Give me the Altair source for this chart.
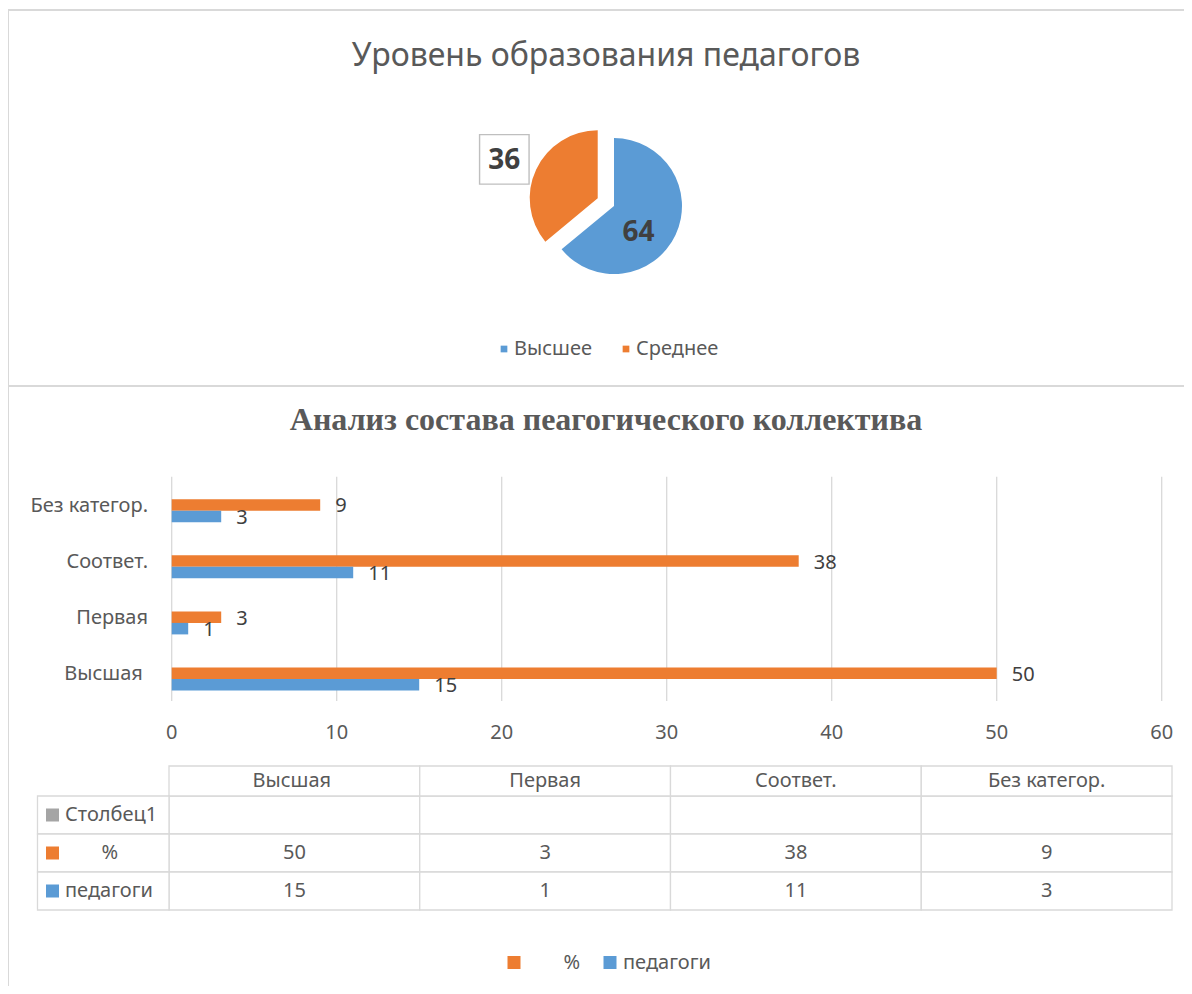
import math
import numpy as np
import pandas as pd
import altair as alt

# ---------------- data ----------------
edu_title = "Уровень образования педагогов"
edu_levels = ["Высшее", "Среднее"]
edu_values = [64, 36]
edu_colors = ["#5B9BD5", "#ED7D31"]

ZW = "\u200b"      # zero-width guard so padding spaces are kept
NB = "\u00a0"
bar_title = "Анализ состава пеагогического коллектива"
categories = ["Высшая" + NB + ZW, "Первая", "Соответ.", "Без категор."]
pct_values = [50, 3, 38, 9]
ped_values = [15, 1, 11, 3]
series_names = [ZW + NB * 7 + "%", "педагоги"]
series_colors = ["#ED7D31", "#5B9BD5"]
extra_row = "Столбец1"
extra_color = "#A5A5A5"
x_ticks = [0, 10, 20, 30, 40, 50, 60]

TXT = "#595959"
DARK = "#404040"
GRID = "#D9D9D9"
FONT = "Noto Sans"

# ---------------- layout (plot coords, origin at page 8,8) ----------------
W, H = 1176, 978

# ---------------- frames ----------------
one = pd.DataFrame({"k": [0]})
frame_top = alt.Chart(one).mark_rect(fillOpacity=0, stroke=GRID, strokeWidth=2).encode(
    x=alt.value(0), x2=alt.value(1200), y=alt.value(2), y2=alt.value(378))
frame_bot = alt.Chart(one).mark_rect(fillOpacity=0, stroke=GRID, strokeWidth=2).encode(
    x=alt.value(0), x2=alt.value(1200), y=alt.value(378), y2=alt.value(1000))

# ---------------- pie ----------------
cum = np.cumsum([0] + edu_values)
pie_df = pd.DataFrame({
    "level": edu_levels,
    "value": edu_values,
    "start": cum[:-1],
    "end": cum[1:],
    "mid": (cum[:-1] + cum[1:]) / 2.0,
})
CX, CY, R = 606, 198, 68
EXPLODE = 18
total = float(sum(edu_values))
m_or = (cum[1] + cum[2]) / 2.0 / total * 2 * math.pi
OX = CX + EXPLODE * math.sin(m_or)
OY = CY - EXPLODE * math.cos(m_or)
LR = 101
BX = OX + LR * math.sin(m_or) - 2
BY = OY - LR * math.cos(m_or) + 4

theta_scale = alt.Scale(domain=[0, total], range=[0, 2 * math.pi])
pie_color = alt.Scale(domain=edu_levels, range=edu_colors)
pie_base = alt.Chart(pie_df)

arc_hi = pie_base.transform_filter(alt.datum.level == edu_levels[0]).mark_arc(radius=R).encode(
    theta=alt.Theta("start:Q", scale=theta_scale, stack=False),
    theta2="end:Q",
    color=alt.Color("level:N", scale=pie_color,
                    legend=alt.Legend(orient="none", legendX=486, legendY=331, direction="horizontal",
                                      title=None, symbolType="square", symbolSize=45, symbolStrokeWidth=0,
                                      labelFont=FONT, labelFontSize=20, labelColor=TXT,
                                      labelOffset=0, columnPadding=24, padding=0)),
    x=alt.value(CX), y=alt.value(CY))
arc_mid = pie_base.transform_filter(alt.datum.level == edu_levels[1]).mark_arc(radius=R).encode(
    theta=alt.Theta("start:Q", scale=theta_scale, stack=False),
    theta2="end:Q",
    color=alt.Color("level:N", scale=pie_color),
    x=alt.value(OX), y=alt.value(OY))
lbl_hi = pie_base.transform_filter(alt.datum.level == edu_levels[0]).mark_text(
    font=FONT, fontSize=28, fontWeight="bold", color=DARK, dx=-8, dy=12, baseline="middle").encode(
    theta=alt.Theta("mid:Q", scale=theta_scale, stack=False),
    radius=alt.value(36), text="value:Q", x=alt.value(CX), y=alt.value(CY))
box_mid = pie_base.transform_filter(alt.datum.level == edu_levels[1]).mark_point(
    shape="square", size=2450, filled=False, stroke="#BFBFBF", strokeWidth=1.4, opacity=1).encode(
    x=alt.value(BX), y=alt.value(BY))
lbl_mid = pie_base.transform_filter(alt.datum.level == edu_levels[1]).mark_text(
    font=FONT, fontSize=28, fontWeight="bold", color=DARK, baseline="middle", dy=2).encode(
    text="value:Q", x=alt.value(BX), y=alt.value(BY))
pie_group = alt.layer(arc_hi, arc_mid, lbl_hi, box_mid, lbl_mid)

# ---------------- bar chart ----------------
bar_df = pd.DataFrame({
    "cat": categories * 2,
    "series": [series_names[0]] * len(categories) + [series_names[1]] * len(categories),
    "value": pct_values + ped_values,
})
x_scale = alt.Scale(domain=[0, 60], range=[163.7, 1153.7])
y_scale = alt.Scale(domain=categories[::-1], range=[474.65, 699.05], paddingInner=0, paddingOuter=0)
off_scale = alt.Scale(domain=series_names, range=[16.55, 39.55], paddingInner=0, paddingOuter=0)
bar_color = alt.Scale(domain=series_names, range=series_colors)

ticks_df = pd.DataFrame({"tick": x_ticks})
grid = alt.Chart(ticks_df).mark_rule(color=GRID, strokeWidth=1.3).encode(
    x=alt.X("tick:Q", scale=x_scale, axis=None), y=alt.value(468.7), y2=alt.value(693))
tick_lbl = alt.Chart(ticks_df).mark_text(font=FONT, fontSize=20, color=TXT, baseline="middle").encode(
    x=alt.X("tick:Q", scale=x_scale, axis=None), y=alt.value(724.5), text="tick:Q")
bars = alt.Chart(bar_df).mark_bar().encode(
    x=alt.X("value:Q", scale=x_scale, axis=None),
    y=alt.Y("cat:N", scale=y_scale, axis=None),
    yOffset=alt.YOffset("series:N", scale=off_scale),
    color=alt.Color("series:N", scale=bar_color,
                    legend=alt.Legend(orient="none", legendX=496, legendY=944.5, direction="horizontal",
                                      title=None, symbolType="square", symbolSize=169, symbolStrokeWidth=0,
                                      labelFont=FONT, labelFontSize=20, labelColor=TXT,
                                      labelOffset=3, columnPadding=19, padding=0)))
bar_lbl = alt.Chart(bar_df).mark_text(font=FONT, fontSize=20, color=DARK, align="left",
                                      baseline="middle", dx=15, dy=1.5).encode(
    x=alt.X("value:Q", scale=x_scale, axis=None),
    y=alt.Y("cat:N", scale=y_scale, axis=None),
    yOffset=alt.YOffset("series:N", scale=off_scale),
    text="value:Q")
cat_df = pd.DataFrame({"cat": categories})
y_lbl = alt.Chart(cat_df).mark_text(font=FONT, fontSize=20, color=TXT, align="right",
                                    baseline="middle", dy=-5).encode(
    x=alt.value(140), y=alt.Y("cat:N", scale=y_scale, axis=None), text="cat:N")
bar_group = alt.layer(grid, tick_lbl, bars, bar_lbl, y_lbl)

# ---------------- data table ----------------
rows = [extra_row] + series_names
row_colors = [extra_color] + series_colors
tx_scale = alt.Scale(domain=categories, range=[161, 1164], paddingInner=0, paddingOuter=0)
ty_scale = alt.Scale(domain=rows, range=[788, 902], paddingInner=0, paddingOuter=0)
row_color = alt.Scale(domain=rows, range=row_colors)

cells_df = pd.DataFrame([(c, r) for r in rows for c in categories], columns=["cat", "row"])
vals_df = pd.DataFrame({
    "cat": categories * 2,
    "row": [series_names[0]] * len(categories) + [series_names[1]] * len(categories),
    "value": pct_values + ped_values,
})
rows_df = pd.DataFrame({"row": rows})

cells = alt.Chart(cells_df).mark_rect(fill="white", stroke=GRID, strokeWidth=1.3).encode(
    x=alt.X("cat:N", scale=tx_scale, axis=None), y=alt.Y("row:N", scale=ty_scale, axis=None))
head_cells = alt.Chart(cat_df).mark_rect(fill="white", stroke=GRID, strokeWidth=1.3).encode(
    x=alt.X("cat:N", scale=tx_scale, axis=None), y=alt.value(758), y2=alt.value(788))
row_cells = alt.Chart(rows_df).mark_rect(fill="white", stroke=GRID, strokeWidth=1.3).encode(
    x=alt.value(29.5), x2=alt.value(161), y=alt.Y("row:N", scale=ty_scale, axis=None))
head_txt = alt.Chart(cat_df).mark_text(font=FONT, fontSize=20, color=TXT, baseline="middle").encode(
    x=alt.X("cat:N", scale=tx_scale, axis=None), y=alt.value(773), text="cat:N")
row_sym = alt.Chart(rows_df).mark_point(shape="square", filled=True, size=169, opacity=1).encode(
    x=alt.value(44.5), y=alt.Y("row:N", scale=ty_scale, axis=None),
    color=alt.Color("row:N", scale=row_color, legend=None))
row_txt = alt.Chart(rows_df).mark_text(font=FONT, fontSize=20, color=TXT, align="left",
                                       baseline="middle").encode(
    x=alt.value(57), y=alt.Y("row:N", scale=ty_scale, axis=None), text="row:N")
val_txt = alt.Chart(vals_df).mark_text(font=FONT, fontSize=20, color=TXT, baseline="middle").encode(
    x=alt.X("cat:N", scale=tx_scale, axis=None), y=alt.Y("row:N", scale=ty_scale, axis=None),
    text="value:Q")
table_group = alt.layer(cells, head_cells, row_cells, head_txt, row_sym, row_txt, val_txt)

# ---------------- titles ----------------
t1 = alt.Chart(pd.DataFrame({"t": [edu_title]})).mark_text(
    font=FONT, fontSize=32, color=TXT, baseline="alphabetic").encode(
    x=alt.value(598), y=alt.value(58), text="t:N")
t2 = alt.Chart(pd.DataFrame({"t": [bar_title]})).mark_text(
    font="Liberation Serif", fontSize=32, fontWeight="bold", color=TXT, baseline="alphabetic").encode(
    x=alt.value(598), y=alt.value(422), text="t:N")

chart = alt.layer(frame_top, frame_bot, pie_group, bar_group, table_group, t1, t2).resolve_scale(
    x="independent", y="independent", color="independent"
).properties(
    width=W, height=H, padding=0, autosize=alt.AutoSizeParams(type="none")
).configure_view(strokeWidth=0)

chart.save("out.html", embed_options={"renderer": "svg", "actions": False})
